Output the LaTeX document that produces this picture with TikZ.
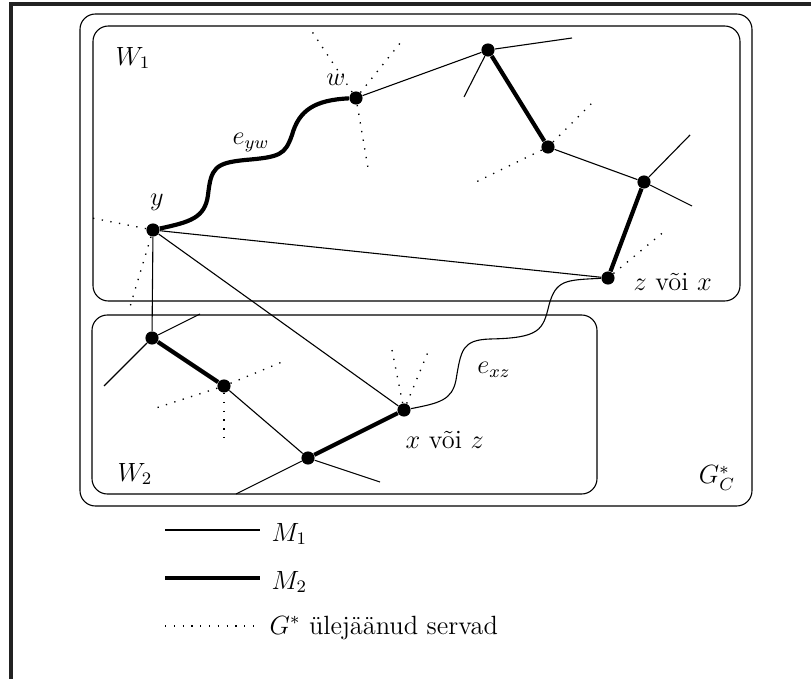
\documentclass[tikz,border=0pt]{standalone}
\usepackage{amssymb}
\usepackage{amsmath}
\usepackage{tikz}

\definecolor{framecol}{RGB}{34,34,34}
\tikzset{
  vtx/.style={circle, fill=black, inner sep=0pt, minimum size=6pt},
  lbl/.style={font=\large, inner sep=1pt},
  mone/.style={line width=0.5pt},
  mtwo/.style={line width=1.9pt},
  rest/.style={line width=0.6pt, dash pattern=on 0.6pt off 3.4pt},
  box/.style={line width=0.5pt, rounded corners=7pt},
}

\begin{document}
\begin{tikzpicture}[x=0.455pt,y=0.455pt,yscale=-1,xscale=1]
\useasboundingbox (0,0) rectangle (811,679);

%Frame
\draw [framecol, line width=1.4pt] (11,679) -- (11,4) -- (811,4) ;

%Shape: Rectangle G_C^*
\draw [box] (80,14) rectangle (752,506) ;
%Shape: Rectangle W_1
\draw [box] (93,26) rectangle (740,301) ;
%Shape: Rectangle W_2
\draw [box] (92,315) rectangle (597,494) ;

%Vertices
\node [vtx] (y) at (153,230) {};
\node [vtx] (w) at (356,98) {};
\node [vtx] (a) at (488,50) {};
\node [vtx] (b) at (548,147) {};
\node [vtx] (c) at (644,182) {};
\node [vtx] (z) at (608,278) {};
\node [vtx] (d) at (152,338) {};
\node [vtx] (e) at (224,386) {};
\node [vtx] (f) at (308,458) {};
\node [vtx] (x) at (404,410) {};

%Free ends
\coordinate (a1) at (572,38);
\coordinate (a2) at (464,97);
\coordinate (c1) at (690,135);
\coordinate (c2) at (692,206);
\coordinate (d1) at (200,314);
\coordinate (d2) at (104,386);
\coordinate (f1) at (380,482);
\coordinate (f2) at (236,494);
\coordinate (w1) at (311,30);
\coordinate (w2) at (401,42);
\coordinate (w3) at (368,168);
\coordinate (b1) at (593,102);
\coordinate (b2) at (476,182);
\coordinate (z1) at (666,230);
\coordinate (y1) at (92,218);
\coordinate (y2) at (129,310);
\coordinate (e1) at (282,362);
\coordinate (e2) at (156,408);
\coordinate (e3) at (224,438);
\coordinate (x1) at (392,350);
\coordinate (x2) at (428,352);

%Straight Lines: M_1
\draw [mone] (w) -- (a) ;
\draw [mone] (a) -- (a1) ;
\draw [mone] (a) -- (a2) ;
\draw [mone] (b) -- (c) ;
\draw [mone] (c) -- (c1) ;
\draw [mone] (c) -- (c2) ;
\draw [mone] (y) -- (z) ;
\draw [mone] (y) -- (d) ;
\draw [mone] (y) -- (x) ;
\draw [mone] (d) -- (d1) ;
\draw [mone] (d) -- (d2) ;
\draw [mone] (e) -- (f) ;
\draw [mone] (f) -- (f1) ;
\draw [mone] (f) -- (f2) ;

%Straight Lines: M_2
\draw [mtwo] (a) -- (b) ;
\draw [mtwo] (c) -- (z) ;
\draw [mtwo] (d) -- (e) ;
\draw [mtwo] (f) -- (x) ;

%Straight Lines: other edges
\draw [rest] (w) -- (w1) ;
\draw [rest] (w) -- (w2) ;
\draw [rest] (w) -- (w3) ;
\draw [rest] (b) -- (b1) ;
\draw [rest] (b) -- (b2) ;
\draw [rest] (z) -- (z1) ;
\draw [rest] (y) -- (y1) ;
\draw [rest] (y) -- (y2) ;
\draw [rest] (e) -- (e1) ;
\draw [rest] (e) -- (e2) ;
\draw [rest] (e) -- (e3) ;
\draw [rest] (x) -- (x1) ;
\draw [rest] (x) -- (x2) ;

%Curve: e_yw
\draw [mtwo] (y) .. controls (190,222) and (205,218) .. (208,195) .. controls (211,168) and (215,163) .. (245,160) .. controls (280,157) and (285,155) .. (292,135) .. controls (299,110) and (315,100) .. (w) ;
%Curve: e_xz
\draw [mone] (x) .. controls (440,403) and (452,400) .. (456,380) .. controls (461,350) and (462,340) .. (490,339) .. controls (540,338) and (543,330) .. (549,305) .. controls (556,280) and (565,280) .. (z) ;

% Text Node
\node [lbl] (ly) at (157,202) {$y$};
% Text Node
\node [lbl] (lw) at (336,80) {$w$};
% Text Node
\node [lbl] (leyw) at (251,143) {$e_{yw}$};
% Text Node
\node [lbl, anchor=west] (lz) at (631,282) {$z$ või $x$};
% Text Node
\node [lbl, anchor=west] (lx) at (403,440) {$x$ või $z$};
% Text Node
\node [lbl] (lexz) at (494,370) {$e_{xz}$};
% Text Node
\node [lbl] (lw1) at (133,58) {$W_1$};
% Text Node
\node [lbl] (lw2) at (135,474) {$W_2$};
% Text Node
\node [lbl] (lg) at (717,478) {$G^*_C$};

%Legend
\coordinate (m1a) at (165,530);
\coordinate (m1b) at (260,530);
\coordinate (m2a) at (165,578);
\coordinate (m2b) at (260,578);
\coordinate (ra) at (165,626);
\coordinate (rb) at (255,626);
\draw [mone] (m1a) -- (m1b) ;
\draw [mtwo] (m2a) -- (m2b) ;
\draw [rest] (ra) -- (rb) ;
% Text Node
\node [lbl, anchor=west] (lm1) at (269,534) {$M_1$};
% Text Node
\node [lbl, anchor=west] (lm2) at (269,582) {$M_2$};
% Text Node
\node [lbl, anchor=west] (lrest) at (267,628) {$G^*$ ülejäänud servad};

\end{tikzpicture}
\end{document}
